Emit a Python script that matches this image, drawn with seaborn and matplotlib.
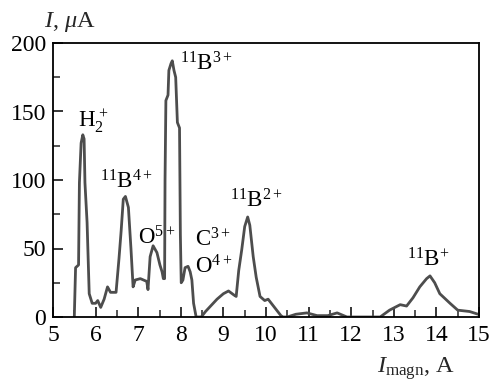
import matplotlib
matplotlib.use("Agg")
import matplotlib.pyplot as plt
import seaborn as sns
import pandas as pd
from matplotlib.ticker import MultipleLocator

# ---- data ----
magnet_current = [5.50, 5.53, 5.60, 5.62, 5.66, 5.70, 5.73, 5.75, 5.80, 5.85,
                  5.92, 6.00, 6.05, 6.12, 6.20, 6.28, 6.35, 6.48, 6.55, 6.60,
                  6.65, 6.70, 6.77, 6.83, 6.88, 6.93, 7.05, 7.20, 7.23, 7.28,
                  7.35, 7.44, 7.51, 7.56, 7.59, 7.62, 7.63, 7.65, 7.70, 7.72,
                  7.77, 7.80, 7.84, 7.88, 7.92, 7.97, 7.99, 8.01, 8.05, 8.10,
                  8.17, 8.22, 8.26, 8.30, 8.36, 8.48, 8.58, 8.70, 8.85, 9.00,
                  9.12, 9.25, 9.30, 9.36, 9.43, 9.50, 9.57, 9.62, 9.70, 9.77,
                  9.86, 9.97, 10.05, 10.20, 10.35, 10.40, 10.50, 10.70, 10.96, 11.20,
                  11.45, 11.67, 11.90, 12.68, 12.90, 13.15, 13.30, 13.45, 13.61, 13.77,
                  13.85, 13.96, 14.08, 14.32, 14.50, 14.78, 14.98]
beam_current = [0, 36, 38, 98, 127, 133, 130, 98, 69, 17,
                10, 10, 12, 7, 13, 22, 18, 18, 43, 63,
                86, 88, 80, 50, 22, 27, 28, 26, 20, 44,
                52, 47, 38, 33, 28, 28, 100, 158, 162, 180,
                185, 187, 180, 175, 142, 138, 60, 25, 27, 36,
                37, 33, 27, 10, 0, 0, 4, 8, 13, 17,
                19, 16, 15, 34, 49, 66, 73, 67, 44, 29,
                15, 12, 13, 7, 1, 0, 0, 2, 3, 1,
                1, 3, 0, 0, 5, 9, 8, 14, 22, 28,
                30, 25, 17, 10, 5, 4, 2]

peak_labels = [r"H$_2^{\,+}$", r"$^{11}$B$^{4+}$", r"$^{11}$B$^{3+}$", r"O$^{5+}$",
               r"C$^{3+}$", r"O$^{4+}$", r"$^{11}$B$^{2+}$", r"$^{11}$B$^{+}$"]
label_x = [5.59, 6.10, 7.98, 7.00, 8.33, 8.33, 9.15, 13.31]
label_y = [138, 94, 179.6, 52.6, 51.8, 32, 80, 36.5]

x_ticks = [5, 6, 7, 8, 9, 10, 11, 12, 13, 14, 15]
y_ticks = [0, 50, 100, 150, 200]

# ---- styling ----
sns.set_style("ticks")
plt.rcParams["font.family"] = ["Liberation Serif", "DejaVu Serif"]
plt.rcParams["mathtext.fontset"] = "custom"
plt.rcParams["mathtext.rm"] = "Liberation Serif"
plt.rcParams["mathtext.it"] = "Liberation Serif:italic"
plt.rcParams["mathtext.bf"] = "Liberation Serif:bold"

fig = plt.figure(figsize=(4.93, 3.83), dpi=100)
ax = fig.add_axes([53 / 493, 1 - 317 / 383, (479 - 53) / 493, (317 - 43) / 383])

df = pd.DataFrame({"Imagn": magnet_current, "I": beam_current})
sns.lineplot(data=df, x="Imagn", y="I", ax=ax, sort=False, estimator=None,
             color="#4d4d4d", linewidth=2.0)

ax.set_xlim(5, 15)
ax.set_ylim(0, 200)
ax.set_xticks(x_ticks)
ax.set_yticks(y_ticks)
ax.xaxis.set_minor_locator(MultipleLocator(0.5))
ax.yaxis.set_minor_locator(MultipleLocator(25))
ax.tick_params(which="major", direction="in", length=7.5, width=1.1,
               labelsize=17, colors="black", pad=6)
ax.tick_params(which="minor", direction="in", length=5, width=1.1)
ax.tick_params(axis="y", pad=5)
for s in ax.spines.values():
    s.set_visible(True)
    s.set_linewidth(1.3)
    s.set_color("black")
ax.set_xlabel("")
ax.set_ylabel("")

for t, xx, yy in zip(peak_labels, label_x, label_y):
    ax.text(xx, yy, t, fontsize=16.5, ha="left", va="baseline", color="black")

fig.text(44 / 493, 1 - 27 / 383, r"$I$, $\mu$A", fontsize=17.5, ha="left", va="baseline")
fig.text(377 / 493, 1 - 373 / 383, r"$I_{\mathrm{magn}}$, A", fontsize=17.5, ha="left", va="baseline")

fig.savefig("out.png", dpi=100)
